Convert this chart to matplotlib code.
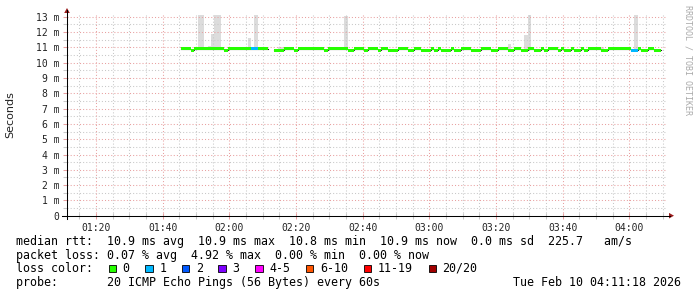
import numpy as np
import matplotlib
matplotlib.use('Agg')
import matplotlib.pyplot as plt
from matplotlib.lines import Line2D
from matplotlib.patches import Rectangle, Polygon
from matplotlib.ticker import FixedLocator

# ---------------- data ----------------
window_start = "01:11:18"
window_end = "04:11:18"
first_sample = "01:45:30"
step_min = 1.0

U, L = 10.93, 10.80
median_ms = [
    U, U, U, L, U, U, U, U, U, U, U, U, U, L, U, U, U, U, U, U, U, U, U, U, U, U,
    None, None,
    L, L, L, U, U, U, L, U, U, U,
    U, U, U, U, U, L, U, U, U, U,
    U, U, L, L, U, U, U, L, U, U,
    U, L, U, U, L, L, L, U, U, U,
    L, L, U, U, L, L, L, U, L, U,
    L, L, L, U, L, L, U, U, U, L,
    L, L, U, U, U, L, L, U, U, U,
    L, L, U, U, L, L, U, U, L, L,
    U, L, U, U, U, L, U, L, L, U,
    L, L, U, L, U, U, U, U, L, L,
    U, U, U, U, U, U, U, L, L, U,
    L, L, U, U, L, L,
]

loss_times = ["02:06:30", "02:07:30", "04:00:30", "04:01:30"]
loss_counts = [1, 1, 1, 1]

smoke_times = ["01:50:30", "01:51:30", "01:52:30", "01:53:30", "01:54:30",
               "01:55:30", "01:56:30", "02:00:30", "02:05:30", "02:07:30",
               "02:14:30", "02:15:30", "02:23:30", "02:24:30", "02:34:30",
               "03:00:30", "03:23:30", "03:28:30", "03:29:30", "03:51:30",
               "04:01:30"]
smoke_top_ms = [13.5, 13.5, 11.0, 11.1, 11.85,
                13.5, 13.5, 11.05, 11.6, 13.5,
                11.0, 11.0, 11.02, 11.02, 13.08,
                11.05, 11.25, 11.8, 13.5, 11.0,
                13.5]

x_tick_labels = ["01:20", "01:40", "02:00", "02:20", "02:40",
                 "03:00", "03:20", "03:40", "04:00"]
y_max_ms = 13.12

loss_labels = ["0", "1", "2", "3", "4-5", "6-10", "11-19", "20/20"]
loss_colors = ["#26ff00", "#00b8ff", "#0059ff", "#7e00ff",
               "#ff00ff", "#ff5500", "#ff0000", "#a10000"]

stats_lines = [
    "median rtt:  10.9 ms avg  10.9 ms max  10.8 ms min  10.9 ms now  0.0 ms sd  225.7   am/s",
    "packet loss: 0.07 % avg  4.92 % max  0.00 % min  0.00 % now",
]
probe_line = "probe:       20 ICMP Echo Pings (56 Bytes) every 60s"
date_text = "Tue Feb 10 04:11:18 2026"


def hm(s):
    p = [int(v) for v in s.split(':')]
    return p[0] * 60 + p[1] + (p[2] / 60.0 if len(p) > 2 else 0.0)


def loss_color(n):
    if n <= 0:
        return loss_colors[0]
    if n == 1:
        return loss_colors[1]
    if n == 2:
        return loss_colors[2]
    if n == 3:
        return loss_colors[3]
    if n <= 5:
        return loss_colors[4]
    if n <= 10:
        return loss_colors[5]
    if n <= 19:
        return loss_colors[6]
    return loss_colors[7]


# ---------------- figure ----------------
W, H, DPI = 697, 297, 100
fig = plt.figure(figsize=(W / DPI, H / DPI), dpi=DPI)
fig.patch.set_facecolor('white')


def fx(x):
    return x / W


def fy(y):
    return 1 - y / H


ax_l, ax_r, ax_t, ax_b = 67, 667, 15.0, 215.7
ax = fig.add_axes([fx(ax_l), fy(ax_b), (ax_r - ax_l) / W, (ax_b - ax_t) / H])
ax.set_facecolor('white')

t0 = hm(first_sample)
times = [t0 + i * step_min for i in range(len(median_ms))]
med = np.array([np.nan if v is None else v for v in median_ms], dtype=float)
loss_map = {round(hm(t), 3): c for t, c in zip(loss_times, loss_counts)}

# smoke
med_map = {round(t, 3): v for t, v in zip(times, med)}
for st, top in zip(smoke_times, smoke_top_ms):
    t = hm(st)
    base = med_map.get(round(t, 3), 10.9)
    ax.bar(t, top - base, bottom=base, width=step_min, align='edge',
           color='#dcdcdc', edgecolor='none', zorder=1, antialiased=False)

# grid
xmin, xmax = hm(window_start), hm(window_end)
major_x = [hm(s) for s in x_tick_labels]
minor_x = [m for m in np.arange(75, xmax, 5) if m not in major_x and m > xmin]
major_y = list(range(0, 14))
minor_y = [v + 0.5 for v in range(0, 13)]
grid_dash = (0, (1.0, 2.0))
for v in minor_y:
    ax.axhline(v, color='#c8c8c8', lw=0.75, ls=grid_dash, zorder=2)
for v in minor_x:
    ax.axvline(v, color='#c8c8c8', lw=0.75, ls=grid_dash, zorder=2)
for v in major_y[1:]:
    ax.axhline(v, color='#e8a0a0', lw=0.75, ls=grid_dash, zorder=2)
for v in major_x:
    ax.axvline(v, color='#e8a0a0', lw=0.75, ls=grid_dash, zorder=2)

# median black step line
xs, ys = [], []
for t, v in zip(times, med):
    if np.isnan(v):
        xs += [np.nan]
        ys += [np.nan]
    else:
        xs += [t, t + step_min]
        ys += [v, v]
ax.plot(xs, ys, color='#202020', lw=0.8, zorder=3, solid_joinstyle='miter')

# colored median segments
for t, v in zip(times, med):
    if np.isnan(v):
        continue
    c = loss_color(loss_map.get(round(t, 3), 0))
    ax.add_patch(Rectangle((t, v - 0.075), step_min, 0.15, facecolor=c,
                           edgecolor='none', zorder=4, antialiased=False))

ax.set_xlim(xmin, xmax)
ax.set_ylim(0, y_max_ms)
for s in ax.spines.values():
    s.set_visible(False)

mono = 'DejaVu Sans Mono'
ax.xaxis.set_major_locator(FixedLocator(major_x))
ax.xaxis.set_minor_locator(FixedLocator(minor_x))
ax.set_xticklabels(x_tick_labels, family=mono, fontsize=7, color='#222222')
ax.yaxis.set_major_locator(FixedLocator(major_y))
ax.yaxis.set_minor_locator(FixedLocator(minor_y))
ax.set_yticklabels(["0"] + ["%d m" % v for v in major_y[1:]],
                   family=mono, fontsize=7, color='#222222')
ax.tick_params(axis='x', which='major', direction='inout', length=4,
               width=0.75, color='#e8a0a0', pad=3)
ax.tick_params(axis='x', which='minor', direction='inout', length=4,
               width=0.75, color='#c8c8c8')
ax.tick_params(axis='y', which='major', direction='out', length=3,
               width=0.75, color='#e8a0a0', pad=2.5)
ax.tick_params(axis='y', which='minor', direction='out', length=3,
               width=0.75, color='#c8c8c8')

# axis lines and arrows
fig.add_artist(Line2D([fx(ax_l), fx(ax_l)], [fy(219), fy(10)],
                      color='#000000', lw=0.75))
fig.add_artist(Line2D([fx(62), fx(670)], [fy(ax_b), fy(ax_b)],
                      color='#000000', lw=0.75))
fig.add_artist(Polygon([(fx(64.2), fy(13)), (fx(69.8), fy(13)), (fx(67), fy(8))],
                       closed=True, facecolor='#9b1c1c', edgecolor='none'))
fig.add_artist(Polygon([(fx(669), fy(ax_b - 2.8)), (fx(669), fy(ax_b + 2.8)),
                        (fx(674), fy(ax_b))],
                       closed=True, facecolor='#9b1c1c', edgecolor='none'))

# labels
fig.text(fx(10), fy(115), "Seconds", rotation=90, ha='center', va='center',
         family='DejaVu Sans', fontsize=8, color='#222222')
fig.text(fx(688), fy(5), "RRDTOOL / TOBI OETIKER", rotation=270,
         ha='center', va='top', family=mono, fontsize=6, color='#aaaaaa')

fs = 8.4
row_y = [241.7, 255.0, 268.3, 282.5]
for i, line in enumerate(stats_lines):
    fig.text(fx(16), fy(row_y[i]), line, ha='left', va='center',
             family=mono, fontsize=fs, color='#000000')
fig.text(fx(16), fy(row_y[2]), "loss color:", ha='left', va='center',
         family=mono, fontsize=fs, color='#000000')
fig.text(fx(16), fy(row_y[3]), probe_line, ha='left', va='center',
         family=mono, fontsize=fs, color='#000000')
fig.text(fx(681), fy(row_y[3]), date_text, ha='right', va='center',
         family=mono, fontsize=fs, color='#000000')

cw = 7.05
sq_x = 108.5
sq = 7.5
for lab, col in zip(loss_labels, loss_colors):
    fig.add_artist(Rectangle((fx(sq_x), fy(row_y[2] + sq / 2)), sq / W, sq / H,
                             facecolor=col, edgecolor='#000000', lw=0.6))
    fig.text(fx(sq_x + 14), fy(row_y[2]), lab, ha='left', va='center',
             family=mono, fontsize=fs, color='#000000')
    sq_x = sq_x + 14 + cw * (len(lab) + 2) + 1.5

fig.savefig('out.png', dpi=DPI)
